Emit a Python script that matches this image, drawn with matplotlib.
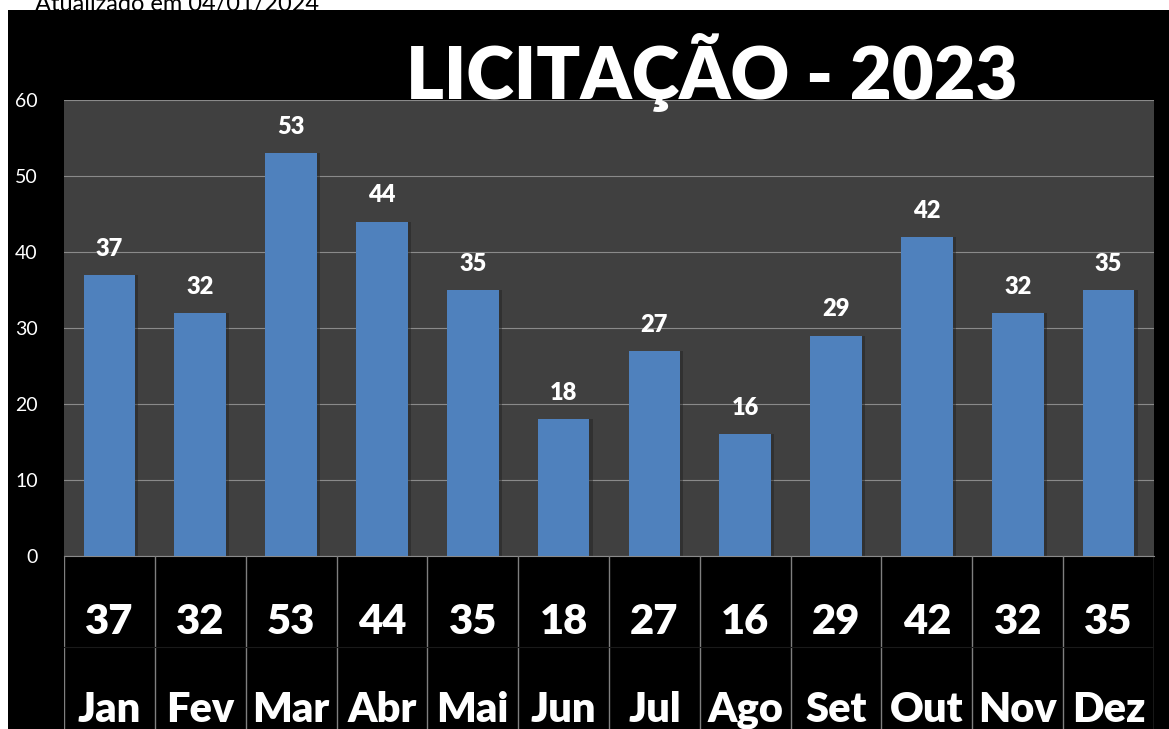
import matplotlib
matplotlib.use("Agg")
import matplotlib.pyplot as plt
import numpy as np

months = ["Jan", "Fev", "Mar", "Abr", "Mai", "Jun", "Jul", "Ago", "Set", "Out", "Nov", "Dez"]
values = [37, 32, 53, 44, 35, 18, 27, 16, 29, 42, 32, 35]
yticks = [0, 10, 20, 30, 40, 50, 60]
title = "LICITAÇÃO - 2023"
updated = "Atualizado em 04/01/2024"

FONT = "Lato"
W, H = 1169, 729
fig = plt.figure(figsize=(W / 100, H / 100), dpi=100)
fig.patch.set_facecolor("white")

# black panel (background axes)
bg = fig.add_axes([8 / W, 0, 1 - 8 / W, 1 - 10 / H], zorder=-10)
bg.set_facecolor("black")
bg.set_xticks([]); bg.set_yticks([])
for s in bg.spines.values():
    s.set_visible(False)

fig.text(35 / W, 1 + 6 / H, updated, color="black", fontsize=17, family=FONT,
         ha="left", va="top")

x0, x1 = 64, 1154
ytop, ybot = 100, 556
ax = fig.add_axes([x0 / W, 1 - ybot / H, (x1 - x0) / W, (ybot - ytop) / H])
ax.set_facecolor("#404040")
x = np.arange(len(months))
ax.bar(x + 0.035, values, width=0.57, color="#202020", alpha=0.45, zorder=2)
bars = ax.bar(x, values, width=0.57, color="#4f81bd", zorder=3)
ax.set_xlim(-0.5, len(months) - 0.5)
ax.set_ylim(0, 60)
ax.set_yticks(yticks)
ax.set_yticklabels([str(t) for t in yticks], color="white", fontsize=14, family=FONT)
ax.tick_params(axis="y", length=0, pad=19)
ax.set_xticks([])
ax.grid(axis="y", color="#8a8a8a", linewidth=0.8, zorder=1)
ax.set_axisbelow(True)
for s in ax.spines.values():
    s.set_visible(False)
ax.spines["bottom"].set_visible(True)
ax.spines["bottom"].set_color("#8a8a8a")
for xi, v in zip(x, values):
    ax.annotate(str(v), (xi, v), xytext=(0, 11), textcoords="offset points",
                ha="center", va="bottom", color="white", fontsize=17,
                fontweight="heavy", family=FONT, zorder=4)

# table below
tax = fig.add_axes([x0 / W, 0, (x1 - x0) / W, (H - ybot) / H])
tax.set_facecolor("black")
tax.set_xlim(-0.5, len(months) - 0.5)
tax.set_ylim(0, H - ybot)
tax.axis("off")
for b in np.arange(-0.5, len(months) + 0.5, 1):
    tax.plot([b, b], [0, H - ybot], color="#7f7f7f", linewidth=1.0)
tax.plot([-0.5, len(months) - 0.5], [729 - 647, 729 - 647], color="#1a1a1a", linewidth=0.8)
for xi, v, m in zip(x, values, months):
    tax.text(xi, 729 - 622, str(v), ha="center", va="center", color="white",
             fontsize=30, fontweight="heavy", family=FONT)
    tax.text(xi, 729 - 710, m, ha="center", va="center", color="white",
             fontsize=30, fontweight="heavy", family=FONT)

fig.text(712 / W, 1 - 72 / H, title, ha="center", va="center", color="white",
         fontsize=52, fontweight="heavy", family=FONT, zorder=10)

fig.savefig("out.png", dpi=100, facecolor=fig.get_facecolor())
